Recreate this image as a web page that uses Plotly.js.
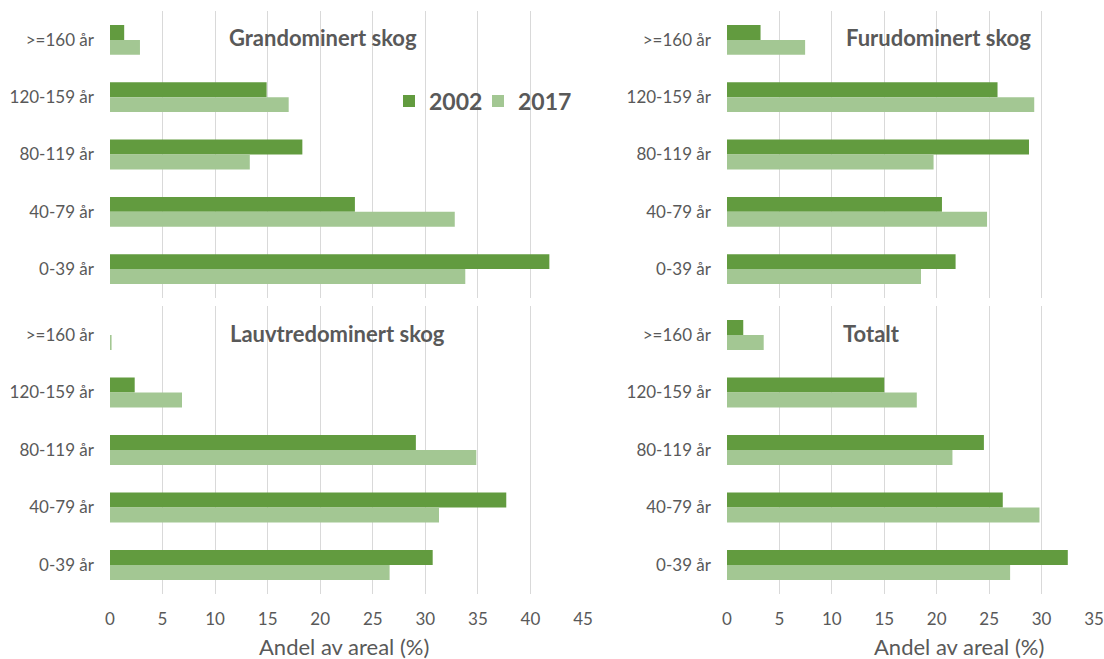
<!DOCTYPE html>
<html>
<head>
<meta charset="utf-8">
<script src="https://cdn.plot.ly/plotly-3.0.1.min.js"></script>
<style>html,body{margin:0;padding:0;background:#fff;}#chart{width:1104px;height:659px;}</style>
</head>
<body>
<div id="chart"></div>
<script>
// Categories (top to bottom)
const categories = ['>=160 år', '120-159 år', '80-119 år', '40-79 år', '0-39 år'];
const seriesNames = ['2002', '2017'];
const panelTitles = ['Grandominert skog', 'Furudominert skog', 'Lauvtredominert skog', 'Totalt'];
const xTitle = 'Andel av areal (%)';

// Values (%), in category order above
const gran2002 = [1.35, 14.9, 18.3, 23.3, 41.8];
const gran2017 = [2.85, 17.0, 13.3, 32.8, 33.8];
const furu2002 = [3.2, 25.8, 28.8, 20.5, 21.8];
const furu2017 = [7.45, 29.3, 19.7, 24.8, 18.5];
const lauv2002 = [0, 2.35, 29.1, 37.7, 30.7];
const lauv2017 = [0.15, 6.85, 34.85, 31.3, 26.6];
const tot2002 = [1.55, 15.0, 24.5, 26.3, 32.5];
const tot2017 = [3.5, 18.1, 21.5, 29.8, 27.0];

const xMaxLeft = 45;
const xMaxRight = 35;

const c2002 = '#629B3F';
const c2017 = '#A3C793';
const textColor = '#595959';
const gridColor = '#D9D9D9';
const fontFam = 'Lato, "Open Sans", sans-serif';

const panels = [
  {d02: gran2002, d17: gran2017, xa: 'x', ya: 'y'},
  {d02: furu2002, d17: furu2017, xa: 'x2', ya: 'y2'},
  {d02: lauv2002, d17: lauv2017, xa: 'x3', ya: 'y3'},
  {d02: tot2002, d17: tot2017, xa: 'x4', ya: 'y4'}
];

const traces = [];
panels.forEach((p, i) => {
  traces.push({type: 'bar', orientation: 'h', name: seriesNames[0], x: p.d02, y: categories,
    xaxis: p.xa, yaxis: p.ya, marker: {color: c2002}, showlegend: i === 0, legend: 'legend', hoverinfo: 'x+y'});
  traces.push({type: 'bar', orientation: 'h', name: seriesNames[1], x: p.d17, y: categories,
    xaxis: p.xa, yaxis: p.ya, marker: {color: c2017}, showlegend: i === 0, legend: 'legend2', hoverinfo: 'x+y'});
});

const W = 1104, H = 659;
const leftDom = [110 / W, 583 / W];
const rightDom = [727 / W, 1094 / W];
const topDom = [1 - 297.7 / H, 1 - 11.3 / H];
const botDom = [1 - 593.7 / H, 1 - 306.3 / H];

function xax(dom, max, anchor, showLabels) {
  return {domain: dom, range: [0, max], dtick: 5, tick0: 0, anchor: anchor,
    showgrid: true, gridcolor: gridColor, gridwidth: 1, zeroline: false, showline: false,
    ticks: '', showticklabels: showLabels, ticklabelstandoff: 13,
    tickfont: {family: fontFam, size: 17, color: textColor}, fixedrange: true};
}
function yax(dom, anchor) {
  return {domain: dom, anchor: anchor, type: 'category', categoryorder: 'array', categoryarray: categories,
    autorange: 'reversed', showgrid: false, zeroline: false, showline: false, ticks: '',
    ticklabelstandoff: 15, tickfont: {family: fontFam, size: 17, color: textColor}, fixedrange: true};
}
function leg(x) {
  return {orientation: 'h', x: x / W, y: 1 - 101 / H, xanchor: 'left', yanchor: 'middle',
    font: {family: fontFam, size: 23, color: textColor, weight: 'bold'}, bgcolor: 'rgba(0,0,0,0)',
    itemwidth: 30};
}

const titleFont = {family: fontFam, size: 22, color: textColor, weight: 'bold'};
const axTitleFont = {family: fontFam, size: 22, color: textColor};
function ann(text, x, y, font) {
  return {text: text, x: x / W, y: 1 - y / H, xref: 'paper', yref: 'paper', xanchor: 'center', yanchor: 'middle',
    showarrow: false, font: font};
}
const layout = {
  width: W, height: H,
  margin: {l: 0, r: 0, t: 0, b: 0},
  paper_bgcolor: '#fff', plot_bgcolor: 'rgba(0,0,0,0)',
  barmode: 'group', bargap: 0.48, bargroupgap: 0,
  showlegend: true,
  legend: leg(389),
  legend2: leg(478),
  xaxis: xax(leftDom, xMaxLeft, 'y', false),
  yaxis: yax(topDom, 'x'),
  xaxis2: xax(rightDom, xMaxRight, 'y2', false),
  yaxis2: yax(topDom, 'x2'),
  xaxis3: xax(leftDom, xMaxLeft, 'y3', true),
  yaxis3: yax(botDom, 'x3'),
  xaxis4: xax(rightDom, xMaxRight, 'y4', true),
  yaxis4: yax(botDom, 'x4'),
  annotations: [
    ann(panelTitles[0], 323, 37, titleFont),
    ann(panelTitles[1], 938, 37, titleFont),
    ann(panelTitles[2], 337, 333, titleFont),
    ann(panelTitles[3], 871, 333, titleFont),
    ann(xTitle, 344, 646, axTitleFont),
    ann(xTitle, 959, 646, axTitleFont)
  ]
};

Plotly.newPlot('chart', traces, layout, {displayModeBar: false, staticPlot: true});
</script>
</body>
</html>
